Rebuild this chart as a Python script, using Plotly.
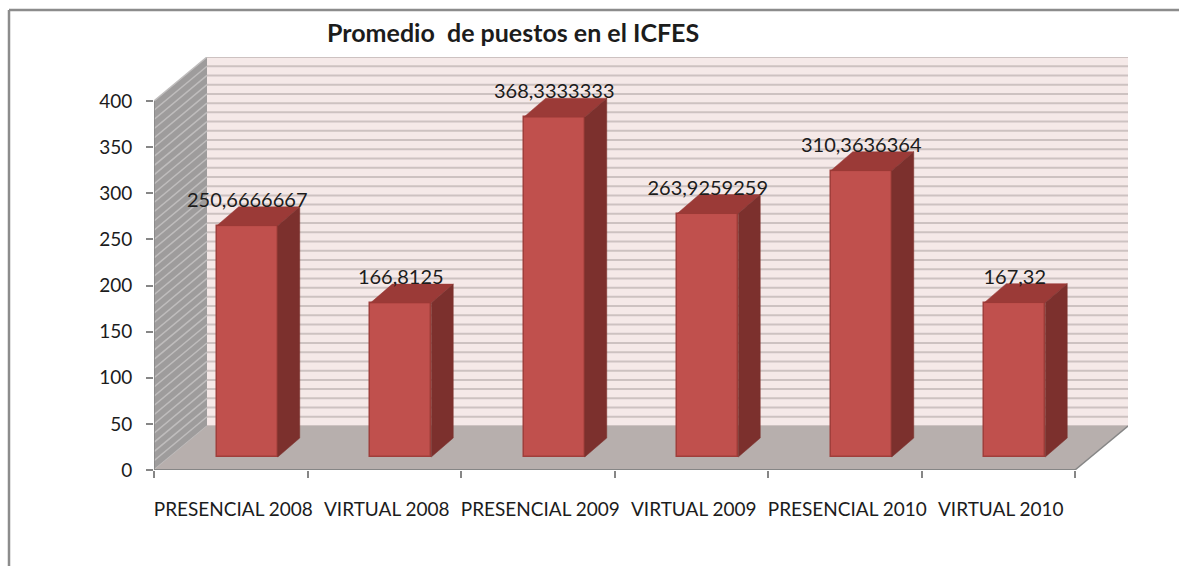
import plotly.graph_objects as go

categories = ["PRESENCIAL 2008", "VIRTUAL 2008", "PRESENCIAL 2009", "VIRTUAL 2009", "PRESENCIAL 2010", "VIRTUAL 2010"]
values = [250.6666667, 166.8125, 368.3333333, 263.9259259, 310.3636364, 167.32]
labels = ["250,6666667", "166,8125", "368,3333333", "263,9259259", "310,3636364", "167,32"]
y_ticks = [0, 50, 100, 150, 200, 250, 300, 350, 400]
title_text = "Promedio  de puestos en el ICFES"

# Layout geometry in pixels
L, R, T, B = 154, 1128, 57, 470
W, H = 1179, 566
PX_X = 153.5            # px per category
PX_Y = 369 / 400        # px per value unit
DX_WALL = (R - L - 6 * PX_X) / PX_X   # wall depth, category units
DY_WALL = (B - 426) / PX_Y            # wall depth, value units
BAR_W = 61 / PX_X
BAR_DX = 16.5 / PX_X    # bar shift from front plane
BAR_BASE = 13 / PX_Y
SIDE_DX = 22 / PX_X
SIDE_DY = 19 / PX_Y
LABEL_DY = 24 / PX_Y
TICK_SHIFT = 2.5 / PX_X

FRONT = "#c0504d"
TOP = "#9b3a37"
SIDE = "#7c302d"
EDGE = "#a03e3b"
TEXT = "#1c1c1c"

xmax = (R - L) / PX_X
ymax = (B - T) / PX_Y
centers = [i + 0.5 + BAR_DX for i in range(6)]

shapes = []
def poly(pts, fill, line=None, width=0, layer="below"):
    path = "M" + " L".join(f"{x},{y}" for x, y in pts) + " Z"
    shapes.append(dict(type="path", path=path, fillcolor=fill, layer=layer,
                       line=dict(color=line or fill, width=width)))
def seg(x0, y0, x1, y1, color, width=1):
    shapes.append(dict(type="line", x0=x0, y0=y0, x1=x1, y1=y1, layer="below",
                       line=dict(color=color, width=width)))

# back wall
poly([(DX_WALL, DY_WALL), (xmax, DY_WALL), (xmax, DY_WALL + 400), (DX_WALL, DY_WALL + 400)], "#f5e9e8")
# side wall
poly([(0, 0), (DX_WALL, DY_WALL), (DX_WALL, DY_WALL + 400), (0, 400)], "#9e9c9c")
for g in range(0, 401, 10):
    seg(DX_WALL, DY_WALL + g, xmax, DY_WALL + g, "#cdc2c1", 2)
    seg(0, g, DX_WALL, DY_WALL + g, "#bfbdbd", 1.5)
# floor
poly([(0, 0), (6, 0), (xmax, DY_WALL), (DX_WALL, DY_WALL)], "#b7afad")
# axis edges
seg(0, 0, 0, 400, "#868686", 1.5)
seg(0, 0, 6, 0, "#868686", 2)
seg(6, 0, xmax, DY_WALL, "#868686", 1.5)

# Frame of the chart
FRAME_X = 9
FRAME_Y = 10
fx = (FRAME_X - L) / (R - L)
fy = (B - FRAME_Y) / (B - T)
shapes.append(dict(type="line", xref="paper", yref="paper", x0=fx, x1=(W - L) / (R - L),
                   y0=fy, y1=fy, line=dict(color="#8c8c8c", width=2.5), layer="below"))
shapes.append(dict(type="line", xref="paper", yref="paper", x0=fx, x1=fx,
                   y0=fy, y1=(B - H) / (B - T), line=dict(color="#8c8c8c", width=2.5), layer="below"))

fig = go.Figure()
fig.add_trace(go.Bar(x=centers, y=values, base=BAR_BASE, width=BAR_W,
                     marker=dict(color=FRONT, line=dict(color=EDGE, width=1.5)), showlegend=False))
for cx, v in zip(centers, values):
    xl, xr = cx - BAR_W / 2, cx + BAR_W / 2
    yt = BAR_BASE + v
    fig.add_trace(go.Scatter(x=[xl, xl + SIDE_DX, xr + SIDE_DX, xr, xl], y=[yt, yt + SIDE_DY, yt + SIDE_DY, yt, yt],
                             mode="lines", fill="toself", fillcolor=TOP, line=dict(width=0.5, color=TOP),
                             showlegend=False, hoverinfo="skip"))
    fig.add_trace(go.Scatter(x=[xr, xr + SIDE_DX, xr + SIDE_DX, xr, xr],
                             y=[yt, yt + SIDE_DY, BAR_BASE + SIDE_DY, BAR_BASE, yt],
                             mode="lines", fill="toself", fillcolor=SIDE, line=dict(width=0.5, color=SIDE),
                             showlegend=False, hoverinfo="skip"))
fig.add_trace(go.Scatter(x=centers, y=[BAR_BASE + v + LABEL_DY for v in values], text=labels, mode="text",
                         textposition="middle center", textfont=dict(family="Lato", size=20, color=TEXT),
                         showlegend=False, hoverinfo="skip"))

fig.update_layout(
    width=W, height=H, margin=dict(l=L, r=W - R, t=T, b=H - B),
    paper_bgcolor="white", plot_bgcolor="white", shapes=shapes, bargap=0,
    font=dict(family="Lato", color=TEXT),
    xaxis=dict(range=[0, xmax], tickmode="array", tickvals=[i + 0.5 + TICK_SHIFT for i in range(6)], ticktext=categories,
               ticks="", showgrid=False, zeroline=False, showline=False, tickfont=dict(size=19), ticklabelstandoff=26,
               minor=dict(tickmode="array", tickvals=list(range(7)), ticks="outside", ticklen=7, tickcolor="#868686", tickwidth=1.5, showgrid=False)),
    yaxis=dict(range=[0, ymax], tickmode="array", tickvals=y_ticks, ticks="outside", ticklen=7, tickcolor="#868686",
               tickwidth=1.5, showgrid=False, zeroline=False, showline=False, tickfont=dict(size=19), ticklabelstandoff=10),
    annotations=[dict(xref="paper", yref="paper", x=(512.5 - L) / (R - L), y=(B - 32) / (B - T), yanchor="middle",
                      text="<b>" + title_text + "</b>", showarrow=False,
                      font=dict(family="Lato", size=25, color=TEXT))],
)
fig.write_html("out.html", post_script="document.body.style.margin='0';", config={"displayModeBar": False})
